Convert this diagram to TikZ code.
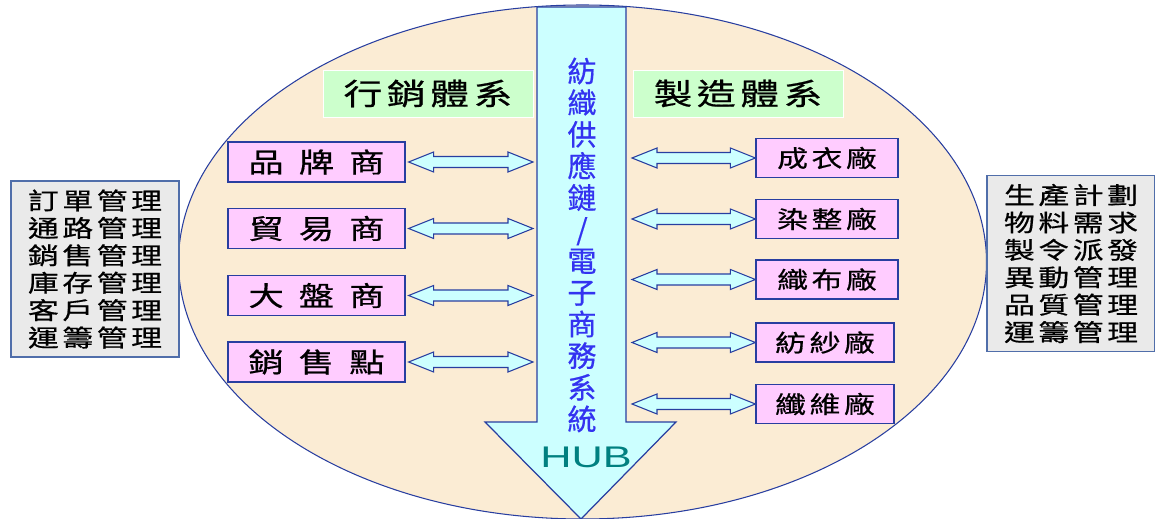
\documentclass[tikz,border=0pt]{standalone}
\usepackage{fontspec}
\newfontfamily\cjk[FakeBold=0.6]{Noto Sans CJK TC}
\newfontfamily\cjkw[FakeStretch=1.3,LetterSpace=15,FakeBold=0.6]{Noto Sans CJK TC}
\newfontfamily\hubfont[FakeStretch=1.45]{Liberation Sans}
\definecolor{edge}{RGB}{40,62,160}
\definecolor{ovalfill}{RGB}{251,236,212}
\definecolor{hubfill}{RGB}{204,255,255}
\definecolor{boxpink}{RGB}{255,204,255}
\definecolor{tagfill}{RGB}{204,255,204}
\definecolor{listfill}{RGB}{234,234,234}
\definecolor{listedge}{RGB}{80,110,170}
\definecolor{vtext}{RGB}{51,51,240}
\definecolor{hubtext}{RGB}{0,128,128}
\begin{document}
\begin{tikzpicture}[x=0.02cm,y=-0.02cm,
	lbox/.style={draw=edge,fill=boxpink,line width=0.7pt,inner sep=0pt,minimum width=3.54cm,minimum height=0.8cm,font=\cjkw\fontsize{15.5}{15.5}\selectfont},
	rbox/.style={lbox,minimum width=2.84cm,minimum height=0.78cm,font=\cjkw\fontsize{13.5}{13.5}\selectfont},
	tag/.style={draw=white,fill=tagfill,inner sep=0pt,minimum width=4.2cm,minimum height=0.94cm,font=\cjkw\fontsize{17}{17}\selectfont},
	list/.style={draw=listedge,fill=listfill,line width=0.7pt,inner sep=0pt,minimum width=3.36cm,minimum height=3.52cm,align=center,font=\cjkw\fontsize{13.5}{15.6}\selectfont},
	link/.style={draw=edge,fill=hubfill,line width=0.6pt,to path={-- ++(0.5cm,0.2cm) -- ++(0,-0.09cm) -- ([shift={(-0.5cm,0.11cm)}]\tikztotarget) -- ++(0,0.09cm) -- (\tikztotarget) -- ++(-0.5cm,-0.2cm) -- ++(0,0.09cm) -- ([shift={(0.5cm,-0.11cm)}]\tikztostart) -- ++(0,-0.09cm) -- cycle}}]
	\useasboundingbox (0,0) rectangle (1155,519);
	\draw[draw=edge,fill=ovalfill,line width=0.6pt] (582.5,262) ellipse [x radius=404, y radius=257];
	\draw[draw=edge,fill=hubfill,line width=0.7pt] (537,7) -- (626,7) -- (626,422) -- (676,422) -- (581,519) -- (485,422) -- (537,422) -- cycle;
	\node[font=\cjk\fontsize{16.5}{18}\selectfont,text=vtext,align=center,inner sep=0pt] (16) at (582,245) {紡\\織\\供\\應\\鏈\\/\\電\\子\\商\\務\\系\\統};
	\node[font=\hubfont\fontsize{17}{17}\selectfont,text=hubtext,inner sep=0pt] (17) at (586,457) {HUB};
	\node[tag] (t1) at (428,93.5) {行銷體系};
	\node[tag] (t2) at (738,93.5) {製造體系};
	\node[lbox] (1) at (316.5,162) {品\hspace{0.3cm}牌\hspace{0.3cm}商};
	\node[lbox] (2) at (316.5,228.5) {貿\hspace{0.3cm}易\hspace{0.3cm}商};
	\node[lbox] (3) at (316.5,295.5) {大\hspace{0.3cm}盤\hspace{0.3cm}商};
	\node[lbox] (4) at (316.5,362) {銷\hspace{0.3cm}售\hspace{0.3cm}點};
	\node[rbox] (5) at (827,158) {成衣廠};
	\node[rbox] (6) at (827,219) {染整廠};
	\node[rbox] (7) at (827,279.5) {織布廠};
	\node[rbox,minimum width=2.76cm] (8) at (825,342.5) {紡紗廠};
	\node[rbox,minimum width=2.76cm] (9) at (825,404) {纖維廠};
	\node[list] (l1) at (95,269) {訂單管理\\通路管理\\銷售管理\\庫存管理\\客戶管理\\運籌管理};
	\node[list] (l2) at (1071,263.5) {生產計劃\\物料需求\\製令派發\\異動管理\\品質管理\\運籌管理};
	\coordinate (a1) at (533,162);
	\coordinate (a2) at (533,228.5);
	\coordinate (a3) at (533,295.5);
	\coordinate (a4) at (533,362);
	\coordinate (b1) at (632,158);
	\coordinate (b2) at (632,219);
	\coordinate (b3) at (632,279.5);
	\coordinate (b4) at (632,342.5);
	\coordinate (b5) at (632,404);
	\draw[link] ([xshift=0.06cm]1.east) to (a1);
	\draw[link] ([xshift=0.06cm]2.east) to (a2);
	\draw[link] ([xshift=0.06cm]3.east) to (a3);
	\draw[link] ([xshift=0.06cm]4.east) to (a4);
	\draw[link] (b1) to (5.west);
	\draw[link] (b2) to (6.west);
	\draw[link] (b3) to (7.west);
	\draw[link] (b4) to (8.west);
	\draw[link] (b5) to (9.west);
\end{tikzpicture}
\end{document}
